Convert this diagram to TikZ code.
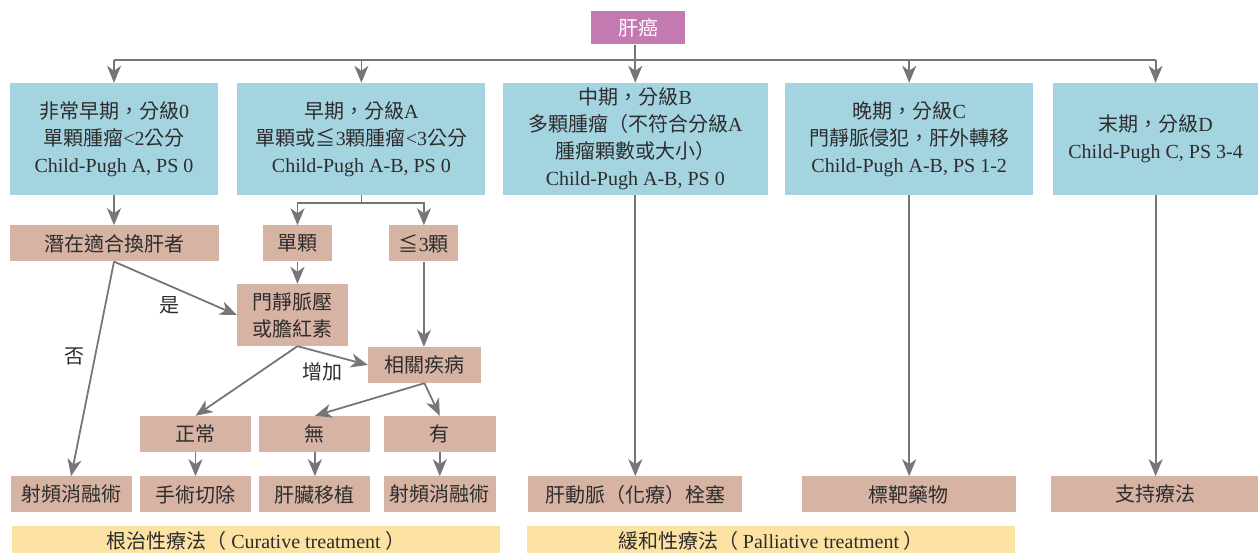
\documentclass[tikz,border=0pt]{standalone}
\usepackage{fontspec}
\setmainfont{Liberation Serif}
\newfontfamily\cjkfont{Noto Sans CJK TC}
\newcommand{\en}[1]{{\rmfamily #1}}
\usetikzlibrary{positioning,arrows.meta}

\definecolor{stageblue}{RGB}{165,212,225}
\definecolor{steptan}{RGB}{214,179,163}
\definecolor{bandyellow}{RGB}{253,227,163}
\definecolor{rootpurple}{RGB}{196,121,177}
\definecolor{linegray}{RGB}{118,118,118}
\definecolor{textgray}{RGB}{45,45,45}

\tikzstyle{root_box} = [fill=rootpurple,
						text=white,
						minimum width=94pt,
						minimum height=33pt,
						inner sep=2pt]
\tikzstyle{stage_box} = [fill=stageblue,
						 text=textgray,
						 align=center,
						 minimum height=112pt,
						 inner sep=2pt]
\tikzstyle{step_box} = [fill=steptan,
						text=textgray,
						align=center,
						minimum height=36pt,
						inner sep=2pt]
\tikzstyle{band_box} = [fill=bandyellow,
						text=textgray,
						minimum height=30pt,
						inner sep=2pt]
\tikzstyle{edge_label} = [text=textgray,
						  inner sep=1pt]
\tikzstyle{link} = [draw=linegray,
					line width=1.8pt]
\tikzstyle{arrow_link} = [draw=linegray,
						  line width=1.8pt,
						  -{Stealth[length=17pt,width=14pt,inset=5pt]}]

\begin{document}
\begin{tikzpicture}[x=1pt, y=1pt, font=\fontsize{20}{27}\selectfont\cjkfont]
	\useasboundingbox (0,0) rectangle (1258,-553);
	\clip (0,0) rectangle (1258,-553);

	\node[root_box] (root) at (638,-28) {肝癌};

	%%%%%%%%%%%%
	%  STAGES  %
	%%%%%%%%%%%%
	\node[stage_box, minimum width=208pt] (s0) at (114,-139) {非常早期，分級\en{0}\\單顆腫瘤\en{<2}公分\\\en{Child-Pugh A, PS 0}};
	\node[stage_box, minimum width=248pt, right=19pt of s0] (sA) {早期，分級\en{A}\\單顆或≦\en{3}顆腫瘤\en{<3}公分\\\en{Child-Pugh A-B, PS 0}};
	\node[stage_box, minimum width=265pt, right=17pt of sA] (sB) {中期，分級\en{B}\\多顆腫瘤（不符合分級\en{A}\\腫瘤顆數或大小）\\\en{Child-Pugh A-B, PS 0}};
	\node[stage_box, minimum width=248pt, right=17pt of sB] (sC) {晚期，分級\en{C}\\門靜脈侵犯，肝外轉移\\\en{Child-Pugh A-B, PS 1-2}};
	\node[stage_box, minimum width=206pt, right=19pt of sC] (sD) {末期，分級\en{D}\\\en{Child-Pugh C, PS 3-4}};

	\coordinate (bus) at (0,-60);
	\draw[link] (s0.north |- bus) -- (sD.north |- bus);
	\foreach \s in {s0,sA,sC,sD}
		\draw[arrow_link] (\s.north |- bus) -- (\s.north);
	\draw[arrow_link] (sB.north |- root.south) -- (sB.north);

	%%%%%%%%%%%%
	%  EARLY   %
	%%%%%%%%%%%%
	\node[step_box, minimum width=209pt, below=30pt of s0] (cand) {潛在適合換肝者};
	\node[step_box, minimum width=69pt] (single) at (297.5,-243.5) {單顆};
	\node[step_box, minimum width=69pt, right=57pt of single] (multi) {≦\en{3}顆};
	\node[step_box, minimum width=111pt, minimum height=62pt] (portal) at (292.5,-315) {門靜脈壓\\或膽紅素};
	\node[step_box, minimum width=113pt] (disease) at (424.5,-365) {相關疾病};

	\node[step_box, minimum width=111pt] (normal) at (195.5,-434) {正常};
	\node[step_box, minimum width=111pt, right=8pt of normal] (none) {無};
	\node[step_box, minimum width=112pt, right=13pt of none] (present) {有};

	%%%%%%%%%%%%
	%  THERAPY %
	%%%%%%%%%%%%
	\node[step_box, minimum width=111pt, below=24pt of normal] (surg) {手術切除};
	\node[step_box, minimum width=111pt, below=24pt of none] (transp) {肝臟移植};
	\node[step_box, minimum width=112pt, below=24pt of present] (rfa2) {射頻消融術};
	\node[step_box, minimum width=121pt, left=8pt of surg] (rfa1) {射頻消融術};
	\node[step_box, minimum width=214pt, right=32pt of rfa2] (tace) {肝動脈（化療）栓塞};
	\node[step_box, minimum width=214pt, right=59pt of tace] (target) {標靶藥物};
	\node[step_box, minimum width=208pt, right=35pt of target] (support) {支持療法};

	\node[band_box, minimum width=488pt] (curative) at (256,-541) {根治性療法（~\en{Curative treatment}~）};
	\node[band_box, minimum width=488pt] (palliative) at (771,-541) {緩和性療法（~\en{Palliative treatment}~）};

	% connectors
	\draw[arrow_link] (s0.south) -- (cand.north);
	\draw[arrow_link] (sA.south) -- ++(0,-8) -| (single.north);
	\draw[arrow_link] (sA.south) ++(0,-8) -| (multi.north);
	\draw[arrow_link] (single.south) -- (single.south |- portal.north);
	\draw[arrow_link] (multi.south) -- (multi.south |- disease.north);

	\draw[arrow_link] (cand.south) -- (portal.west) node[edge_label, pos=.45, below=9pt] (yes_label) {是};
	\draw[arrow_link] (cand.south) -- (rfa1.north) node[edge_label, pos=.444, left=9pt] (no_label) {否};

	\coordinate (portal_out) at ([xshift=5pt]portal.south);
	\draw[arrow_link] (portal_out) -- (disease.west) node[edge_label, pos=.35, below=8pt] (up_label) {增加};
	\draw[arrow_link] (portal_out) -- (normal.north);
	\draw[arrow_link] (disease.south) -- (none.north);
	\draw[arrow_link] (disease.south) -- (present.north);

	\draw[arrow_link] (normal) -- (surg);
	\draw[arrow_link] (none) -- (transp);
	\draw[arrow_link] (present) -- (rfa2);

	\draw[arrow_link] (sB.south) -- (sB.south |- tace.north);
	\draw[arrow_link] (sC.south) -- (sC.south |- target.north);
	\draw[arrow_link] (sD.south) -- (sD.south |- support.north);

\end{tikzpicture}
\end{document}
